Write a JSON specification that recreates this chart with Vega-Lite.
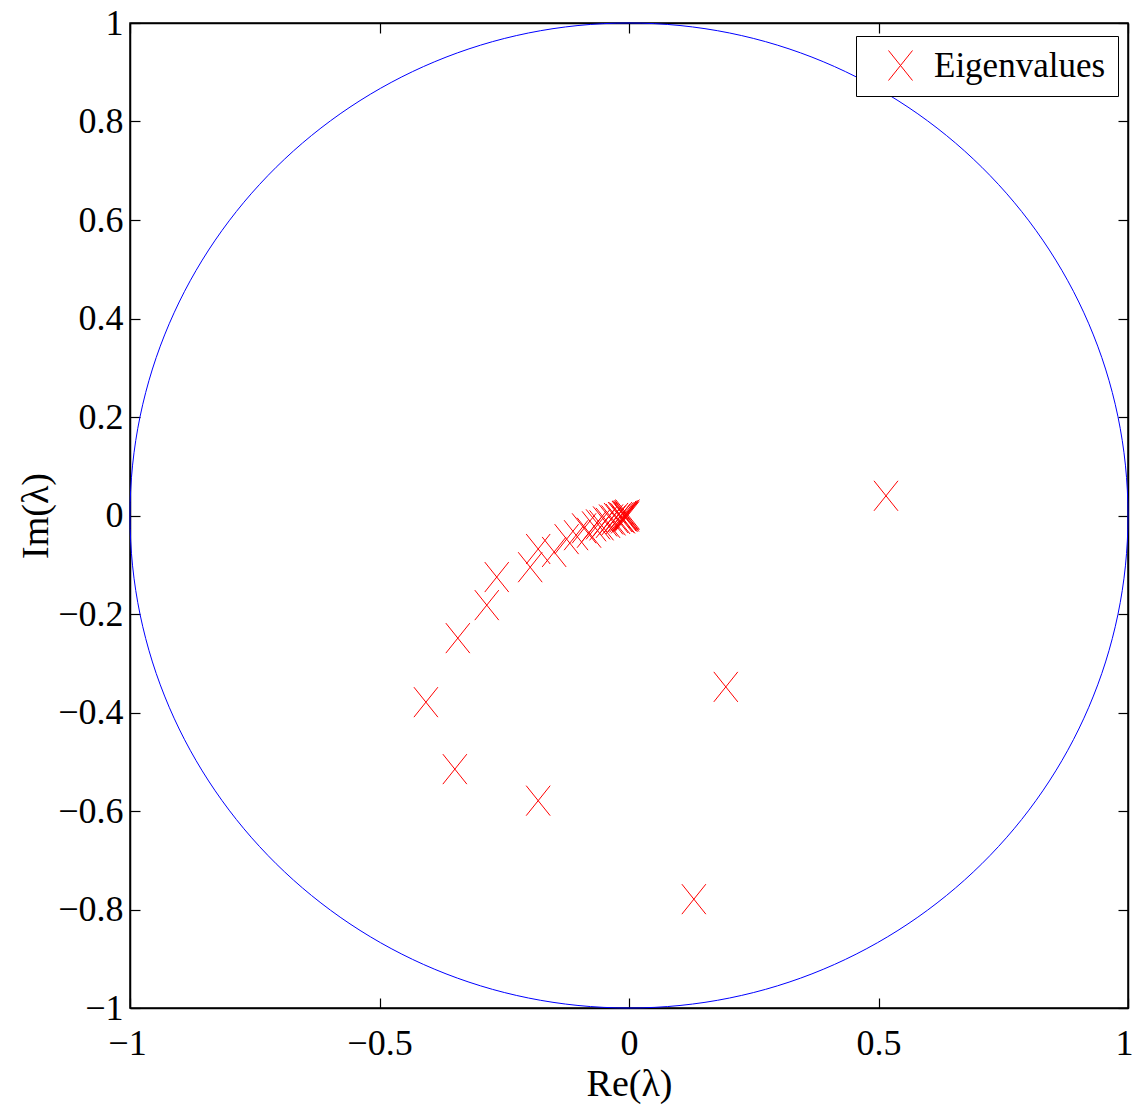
{
  "$schema": "https://vega.github.io/schema/vega-lite/v6.json",
  "width": 998,
  "height": 985,
  "autosize": {"type": "none"},
  "padding": {"left": 130, "top": 23, "right": 7, "bottom": 102},
  "background": "white",
  "config": {
    "view": {"stroke": "black", "strokeWidth": 1.5},
    "axis": {
      "grid": false,
      "domainColor": "black",
      "domainWidth": 1.5,
      "tickColor": "black",
      "tickSize": -10,
      "tickWidth": 1.2,
      "labelFlush": false,
      "labelOverlap": false,
      "labelFont": "Liberation Serif",
      "labelFontSize": 36,
      "labelColor": "black",
      "titleFont": "Liberation Serif",
      "titleFontSize": 38,
      "titleFontWeight": "normal",
      "titleColor": "black"
    }
  },
  "datasets": {
    "eig": [
      {"re": 0.515, "im": 0.040},
      {"re": 0.194, "im": -0.348},
      {"re": 0.130, "im": -0.779},
      {"re": -0.182, "im": -0.579},
      {"re": -0.349, "im": -0.515},
      {"re": -0.407, "im": -0.379},
      {"re": -0.343, "im": -0.249},
      {"re": -0.285, "im": -0.182},
      {"re": -0.265, "im": -0.125},
      {"re": -0.198, "im": -0.105},
      {"re": -0.182, "im": -0.068},
      {"re": -0.150, "im": -0.074},
      {"re": -0.125, "im": -0.048},
      {"re": -0.106, "im": -0.040},
      {"re": -0.090, "im": -0.026},
      {"re": -0.080, "im": -0.035},
      {"re": -0.070, "im": -0.022},
      {"re": -0.062, "im": -0.018},
      {"re": -0.055, "im": -0.020},
      {"re": -0.048, "im": -0.012},
      {"re": -0.042, "im": -0.015},
      {"re": -0.036, "im": -0.008},
      {"re": -0.031, "im": -0.010},
      {"re": -0.026, "im": -0.005},
      {"re": -0.022, "im": -0.007},
      {"re": -0.018, "im": -0.003},
      {"re": -0.015, "im": -0.004},
      {"re": -0.012, "im": -0.006},
      {"re": -0.010, "im": -0.001},
      {"re": -0.008, "im": 0.000},
      {"re": -0.007, "im": -0.003},
      {"re": -0.005, "im": 0.001},
      {"re": -0.004, "im": -0.002},
      {"re": -0.003, "im": 0.002}
    ]
  },
  "layer": [
    {
      "data": {"values": [{"re": 0, "im": 0}]},
      "mark": {
        "type": "point",
        "shape": "M1,0A1,0.987 0 1,1 -1,0A1,0.987 0 1,1 1,0",
        "size": 996004,
        "filled": false,
        "stroke": "#0000ff",
        "strokeWidth": 1,
        "opacity": 1
      },
      "encoding": {
        "x": {"field": "re", "type": "quantitative", "scale": {"domain": [-1, 1], "nice": false, "zero": false},
          "axis": {"orient": "bottom", "values": [-1, -0.5, 0, 0.5, 1], "format": ".1~f", "title": "Re(λ)", "labelPadding": 28, "titlePadding": 4,
            "labelOffset": {"condition": [{"test": "datum.value === 1", "value": -4}, {"test": "datum.value === -1", "value": -3}], "value": 0}}},
        "y": {"field": "im", "type": "quantitative", "scale": {"domain": [-1, 1], "nice": false, "zero": false},
          "axis": {"orient": "left", "values": [-1, -0.8, -0.6, -0.4, -0.2, 0, 0.2, 0.4, 0.6, 0.8, 1], "format": ".1~f", "title": "Im(λ)", "labelPadding": 17, "titlePadding": 2}}
      }
    },
    {
      "data": {"name": "eig"},
      "mark": {
        "type": "point",
        "shape": "M-0.8,-1L0.8,1M-0.8,1L0.8,-1",
        "size": 900,
        "filled": false,
        "strokeWidth": 1,
        "opacity": 1
      },
      "encoding": {
        "x": {"field": "re", "type": "quantitative",
          "axis": {"orient": "top", "values": [-1, -0.5, 0, 0.5, 1], "labels": false, "title": null}},
        "y": {"field": "im", "type": "quantitative",
          "axis": {"orient": "right", "values": [-1, -0.8, -0.6, -0.4, -0.2, 0, 0.2, 0.4, 0.6, 0.8, 1], "labels": false, "title": null}},
        "color": {
          "datum": "Eigenvalues",
          "type": "nominal",
          "scale": {"range": ["#ff0000"]},
          "legend": {
            "orient": "none",
            "legendX": 726,
            "legendY": 13,
            "title": null,
            "strokeColor": "black",
            "fillColor": "white",
            "padding": 12,
            "symbolType": "M-0.8,-1L0.8,1M-0.8,1L0.8,-1",
            "symbolSize": 900,
            "symbolStrokeWidth": 1,
            "symbolOffset": 15,
            "symbolFillColor": "transparent",
            "labelFont": "Liberation Serif",
            "labelFontSize": 35,
            "labelLimit": 0,
            "labelColor": "black",
            "labelOffset": 16
          }
        }
      }
    }
  ]
}
